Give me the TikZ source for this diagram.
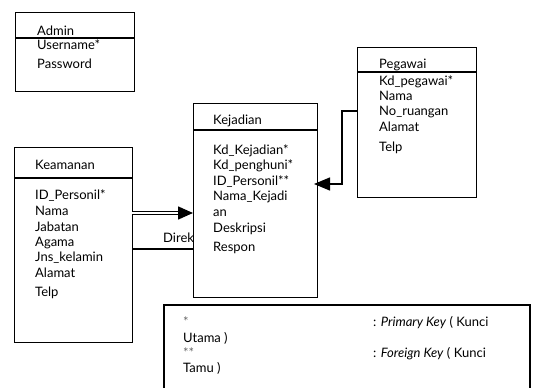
\documentclass[tikz,border=0pt]{standalone}
\usepackage{fontspec}
\setmainfont{Lato}
\usetikzlibrary{arrows.meta}
\begin{document}
\begin{tikzpicture}[x=1pt,y=-1pt,
  ent/.style={draw,line width=1.4pt,anchor=north west,inner sep=0pt,fill=white},
  lbl/.style={anchor=base west,inner sep=0pt,font=\fontsize{13}{15}\selectfont},
  lnk/.style={line width=1.4pt},
  big/.style={-{Triangle[length=16pt,width=13pt]}}]
\useasboundingbox (0,0) rectangle (539,388);
\clip (0,0) rectangle (539,388);
% Direk label
\node[lbl] (direk) at (163,242) {Direk};
% boxes
\node[ent,minimum width=119pt,minimum height=79pt] (admin) at (15,12) {};
\draw[lnk] ([yshift=-26pt]admin.north west) -- ([yshift=-26pt]admin.north east);
\node[ent,minimum width=119pt,minimum height=150pt] (peg) at (357,47) {};
\draw[lnk] ([yshift=-25pt]peg.north west) -- ([yshift=-25pt]peg.north east);
\node[ent,minimum width=118pt,minimum height=195pt] (kea) at (14,147) {};
\draw[lnk] ([yshift=-31pt]kea.north west) -- ([yshift=-31pt]kea.north east);
\node[ent,minimum width=124pt,minimum height=194pt] (kej) at (193,103) {};
\draw[lnk] ([yshift=-27pt]kej.north west) -- ([yshift=-27pt]kej.north east);
% legend
\coordinate (lg1) at (164,400);
\coordinate (lg2) at (164,305);
\coordinate (lg3) at (530,305);
\coordinate (lg4) at (530,400);
\draw[lnk] (lg1) -- (lg2) -- (lg3) -- (lg4);
% Admin texts
\node[lbl] (a0) at (37,35) {Admin};
\node[lbl] (a1) at (37,49) {Username*};
\node[lbl] (a2) at (37,68) {Password};
% Pegawai texts
\node[lbl] (p0) at (379,68) {Pegawai};
\node[lbl] (p1) at (379,85) {Kd\_pegawai*};
\node[lbl] (p2) at (379,100) {Nama};
\node[lbl] (p3) at (379,115) {No\_ruangan};
\node[lbl] (p4) at (379,131) {Alamat};
\node[lbl] (p5) at (379,151) {Telp};
% Kejadian texts
\node[lbl] (k0) at (213,124) {Kejadian};
\node[lbl] (k1) at (213,154) {Kd\_Kejadian*};
\node[lbl] (k2) at (213,169) {Kd\_penghuni*};
\node[lbl] (k3) at (213,185) {ID\_Personil**};
\node[lbl] (k4) at (213,200) {Nama\_Kejadi};
\node[lbl] (k5) at (213,216) {an};
\node[lbl] (k6) at (213,232) {Deskripsi};
\node[lbl] (k7) at (213,251) {Respon};
% Keamanan texts
\node[lbl] (m0) at (35,169) {Keamanan};
\node[lbl] (m1) at (35,199) {ID\_Personil*};
\node[lbl] (m2) at (35,215) {Nama};
\node[lbl] (m3) at (35,231) {Jabatan};
\node[lbl] (m4) at (35,246) {Agama};
\node[lbl] (m5) at (35,261) {Jns\_kelamin};
\node[lbl] (m6) at (35,277) {Alamat};
\node[lbl] (m7) at (35,296) {Telp};
% legend texts
\node[lbl,text=black!60] (l1) at (183,326) {*};
\node[lbl] (l2) at (373,326) {: \textit{Primary Key} ( Kunci};
\node[lbl] (l3) at (183,342) {Utama )};
\node[lbl,text=black!60] (l4) at (183,357) {**};
\node[lbl] (l5) at (373,357) {: \textit{Foreign Key} ( Kunci};
\node[lbl] (l6) at (183,372) {Tamu )};
% connectors
\coordinate (pg) at (357,111);
\coordinate (pc) at (342,111);
\coordinate (kt) at (314,184);
\draw[lnk,big] (pg) -- (pc) |- (kt);
\coordinate (ka) at (132,213);
\coordinate (kb) at (193,213);
\draw[line width=1.6pt,double,double distance=1.2pt,-{Triangle[length=15pt,width=13pt]}] (ka) -- (kb);
\coordinate (kc) at (132,249);
\coordinate (kd) at (193,249);
\draw[lnk] (kc) -- (kd);
\end{tikzpicture}
\end{document}
